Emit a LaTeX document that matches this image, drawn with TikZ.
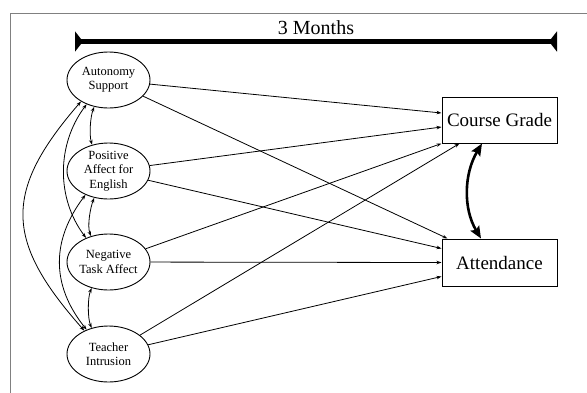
\documentclass[tikz,border=0pt]{standalone}
\usepackage{fontspec}
\setmainfont{Liberation Serif}
\usetikzlibrary{arrows.meta,shapes.geometric}
\begin{document}
\begin{tikzpicture}[x=1pt,y=-1pt,
  latent/.style={ellipse,draw,line width=0.9pt,minimum width=83pt,minimum height=56pt,inner sep=0pt,align=center,font=\fontsize{12.5}{14.3}\selectfont},
  outcome/.style={rectangle,draw,line width=1pt,minimum width=115pt,minimum height=46pt,inner sep=0pt,font=\fontsize{19}{22}\selectfont},
  regpath/.style={line width=0.8pt,-{Stealth[length=5pt,width=3.5pt]}},
  cov/.style={line width=0.8pt,{Stealth[length=5pt,width=3.5pt]}-{Stealth[length=5pt,width=3.5pt]}},
  bigcov/.style={line width=2.6pt,{Stealth[length=12pt,width=10pt,inset=2pt]}-{Stealth[length=12pt,width=10pt,inset=2pt]}},
  frameline/.style={draw=gray,line width=1pt},
  timebar/.style={line width=4.5pt,{Triangle[reversed,length=8pt,width=20pt]}-{Triangle[reversed,length=8pt,width=20pt]}}
]
\useasboundingbox (0,0) rectangle (587,392);
\clip (0,0) rectangle (587,392);

% frame
\coordinate (fr) at (600,13);
\coordinate (ftl) at (10,13);
\coordinate (fb) at (10,400);
\draw[frameline] (fr) -- (ftl) -- (fb);

% title and time bar
\node[font=\fontsize{20}{24}\selectfont,anchor=base,inner sep=0pt] (title) at (316,34) {3 Months};
\coordinate (bl) at (75,41.5);
\coordinate (br) at (557,41.5);
\draw[timebar] (bl) -- (br);

% nodes
\node[latent] (as) at (108.5,80) {Autonomy\\Support};
\node[latent] (pa) at (108.5,171) {Positive\\Affect for\\English};
\node[latent] (nta) at (108.5,262) {Negative\\Task Affect};
\node[latent] (ti) at (108.5,354) {Teacher\\Intrusion};
\node[outcome] (cg) at (499.5,120) {Course Grade};
\node[outcome,minimum height=47pt] (att) at (499.5,262.5) {Attendance};

% regression paths
\draw[regpath] (as) -- ([yshift=7pt]cg.west);
\draw[regpath] (as) -- ([xshift=6pt]att.north west);
\draw[regpath] (pa) -- ([yshift=-7pt]cg.west);
\draw[regpath] (pa) -- ([yshift=14pt]att.west);
\draw[regpath] (nta) -- (cg.south west);
\draw[regpath] (nta) -- (att.west);
\draw[regpath] (ti) -- ([xshift=18pt]cg.south west);
\draw[regpath] (ti) -- ([yshift=-14pt]att.west);

% covariances among predictors
\draw[cov] (as.-118) .. controls +(-4,10) and +(-3,-10) .. (pa.122);
\draw[cov] (pa.-118) .. controls +(-4,10) and +(-4,-10) .. (nta.124);
\draw[cov] (nta.-123) .. controls +(-4,10) and +(-4,-10) .. (ti.123);
\draw[cov] (as.-132) .. controls +(-30,40) and +(-30,-40) .. (nta.133);
\draw[cov] (as.-142) .. controls +(-78,90) and +(-80,-90) .. (ti.136);
\draw[cov] (pa.-134) .. controls +(-34,45) and +(-36,-45) .. (ti.132);

% outcome covariance
\draw[bigcov] ([xshift=-17.5pt]cg.south) .. controls +(-18,30) and +(-18,-30) .. ([xshift=-18.5pt]att.north);
\end{tikzpicture}
\end{document}
